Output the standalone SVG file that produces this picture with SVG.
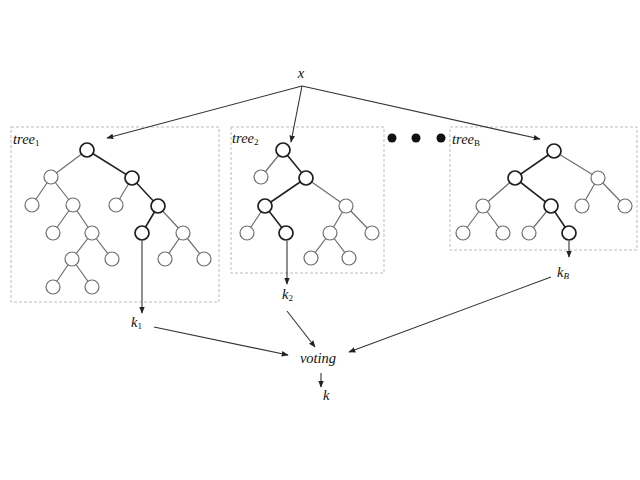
<svg xmlns="http://www.w3.org/2000/svg" width="640" height="480" viewBox="0 0 640 480">
<defs>
<marker id="ah" viewBox="0 0 10 10" refX="9" refY="5" markerWidth="7" markerHeight="7" orient="auto" markerUnits="userSpaceOnUse">
<path d="M0,1 L10,5 L0,9 z" fill="#222"/>
</marker>
<style>
.box{fill:none;stroke:#bdbdbd;stroke-width:1;stroke-dasharray:3,2}
.e{stroke:#6e6e6e;stroke-width:1.2;fill:none}
.eb{stroke:#222;stroke-width:1.6;fill:none}
.n{fill:#fff;stroke:#6e6e6e;stroke-width:1.2}
.nb{fill:#fff;stroke:#1e1e1e;stroke-width:1.7}
.c{stroke:#333;stroke-width:1.1;fill:none;marker-end:url(#ah)}
.t{font-family:"Liberation Serif","Times New Roman",serif;font-style:italic;font-size:14.5px;fill:#111}
.s{font-family:"Liberation Serif","Times New Roman",serif;font-style:normal;font-size:9px;fill:#111}
.si{font-style:italic}
</style>
</defs>
<rect width="640" height="480" fill="#fff"/>

<g id="tree1">
<rect class="box" x="11" y="127" width="208" height="175"/>
<text class="t" x="13" y="144">tree<tspan class="s" dy="2">1</tspan></text>
<path class="e" d="M87,150L51,177M51,177L32,205M51,177L73,205M132,178L116,205M73,205L53,233M73,205L92,233M158,206L183,233M92,233L72,259M92,233L112,259M183,233L165,259M183,233L204,259M72,259L53,287M72,259L92,287"/>
<path class="eb" d="M87,150L132,178L158,206L142,233"/>
<circle class="nb" cx="87" cy="150" r="7"/>
<circle class="n" cx="51" cy="177" r="7"/>
<circle class="nb" cx="132" cy="178" r="7"/>
<circle class="n" cx="32" cy="205" r="7"/>
<circle class="n" cx="73" cy="205" r="7"/>
<circle class="n" cx="116" cy="205" r="7"/>
<circle class="nb" cx="158" cy="206" r="7"/>
<circle class="n" cx="53" cy="233" r="7"/>
<circle class="n" cx="92" cy="233" r="7"/>
<circle class="nb" cx="142" cy="233" r="7"/>
<circle class="n" cx="183" cy="233" r="7"/>
<circle class="n" cx="72" cy="259" r="7"/>
<circle class="n" cx="112" cy="259" r="7"/>
<circle class="n" cx="165" cy="259" r="7"/>
<circle class="n" cx="204" cy="259" r="7"/>
<circle class="n" cx="53" cy="287" r="7"/>
<circle class="n" cx="92" cy="287" r="7"/>
</g>

<g id="tree2">
<rect class="box" x="231" y="127" width="153" height="146"/>
<text class="t" x="232" y="143">tree<tspan class="s" dy="2">2</tspan></text>
<path class="e" d="M283,150L261,177M306,178L346,206M265,206L247,233M346,206L330,233M346,206L372,233M330,233L311,258M330,233L349,258"/>
<path class="eb" d="M283,150L306,178L265,206L286,233"/>
<circle class="nb" cx="283" cy="150" r="7"/>
<circle class="n" cx="261" cy="177" r="7"/>
<circle class="nb" cx="306" cy="178" r="7"/>
<circle class="nb" cx="265" cy="206" r="7"/>
<circle class="n" cx="346" cy="206" r="7"/>
<circle class="n" cx="247" cy="233" r="7"/>
<circle class="nb" cx="286" cy="233" r="7"/>
<circle class="n" cx="330" cy="233" r="7"/>
<circle class="n" cx="372" cy="233" r="7"/>
<circle class="n" cx="311" cy="258" r="7"/>
<circle class="n" cx="349" cy="258" r="7"/>
</g>

<g id="dots">
<circle cx="392" cy="138" r="4.5" fill="#111"/>
<circle cx="416" cy="138" r="4.5" fill="#111"/>
<circle cx="441" cy="138" r="4.5" fill="#111"/>
</g>

<g id="treeB">
<rect class="box" x="450" y="127" width="187" height="123"/>
<text class="t" x="452" y="144">tree<tspan class="s" dy="2">B</tspan></text>
<path class="e" d="M554,151L598,178M515,178L483,206M598,178L582,206M598,178L625,206M483,206L463,233M483,206L503,233M551,206L529,233"/>
<path class="eb" d="M554,151L515,178L551,206L569,233"/>
<circle class="nb" cx="554" cy="151" r="7"/>
<circle class="nb" cx="515" cy="178" r="7"/>
<circle class="n" cx="598" cy="178" r="7"/>
<circle class="n" cx="483" cy="206" r="7"/>
<circle class="nb" cx="551" cy="206" r="7"/>
<circle class="n" cx="582" cy="206" r="7"/>
<circle class="n" cx="625" cy="206" r="7"/>
<circle class="n" cx="463" cy="233" r="7"/>
<circle class="n" cx="503" cy="233" r="7"/>
<circle class="n" cx="529" cy="233" r="7"/>
<circle class="nb" cx="569" cy="233" r="7"/>
</g>

<g id="x"><text class="t" x="301" y="78" text-anchor="middle">x</text></g>
<g id="k1"><text class="t" x="131" y="327">k<tspan class="s" dy="2">1</tspan></text></g>
<g id="k2"><text class="t" x="282" y="299">k<tspan class="s" dy="2">2</tspan></text></g>
<g id="kB"><text class="t" x="557" y="277">k<tspan class="s si" dy="2">B</tspan></text></g>
<g id="voting"><text class="t" x="318" y="363" text-anchor="middle">voting</text></g>
<g id="k"><text class="t" x="323" y="400">k</text></g>

<g id="connectors">
<path class="c" d="M302,86L107,138"/>
<path class="c" d="M302,86L291,142"/>
<path class="c" d="M302,86L540,139"/>
<path class="c" d="M142,241L142,313"/>
<path class="c" d="M287,241L287,284"/>
<path class="c" d="M569,241L569,257"/>
<path class="c" d="M154,327L288,355"/>
<path class="c" d="M287,311L315,347"/>
<path class="c" d="M551,277L349,352"/>
<path class="c" d="M321,373L321,387"/>
</g>
</svg>
